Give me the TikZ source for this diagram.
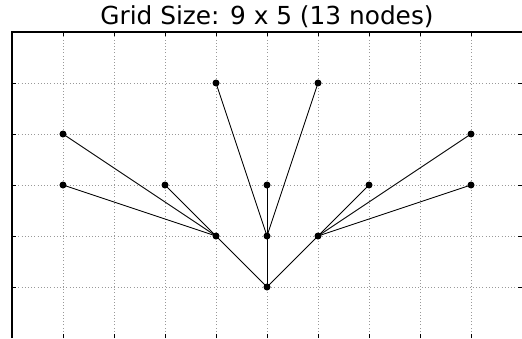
\documentclass[tikz,border=0pt]{standalone}
\usepackage{fontspec}
\setmainfont{DejaVu Sans}
\begin{document}
\begin{tikzpicture}[x=51pt,y=51pt,
  vert/.style={circle,fill=black,inner sep=0pt,minimum size=7pt},
  edge/.style={draw=black,line width=0.9pt},
  gridline/.style={draw=black!40,line width=0.6pt,dash pattern=on 0.8pt off 2.4pt},
  spine/.style={draw=black,line width=1.1pt},
  tick/.style={draw=black,line width=0.8pt}]
\useasboundingbox (-1-12/51,-1) rectangle (9,5+32/51);
% grid
\foreach \i in {0,...,8} \draw[gridline] (\i,-1) -- (\i,5);
\foreach \j in {0,...,4} \draw[gridline] (-1,\j) -- (9,\j);
% spines
\draw[spine] (-1,-1) -- (-1,5) -- (9,5);
% ticks
\foreach \i in {0,...,8} {
  \draw[tick] (\i,5) -- ++(0,-4pt);
  \draw[tick] (\i,-1) -- ++(0,4pt);
}
\foreach \j in {0,...,4} {
  \draw[tick] (-1,\j) -- ++(4pt,0);
  \draw[tick] (9,\j) -- ++(-4pt,0);
}
% title
\node[anchor=base,inner sep=0pt] (title) at (4,5+7/51) {\fontsize{24.8}{28}\selectfont Grid Size: 9 x 5 (13 nodes)};
% nodes
\node[vert] (r) at (4,0) {};
\node[vert] (a) at (3,1) {};
\node[vert] (b) at (4,1) {};
\node[vert] (c) at (5,1) {};
\node[vert] (a1) at (0,3) {};
\node[vert] (a2) at (0,2) {};
\node[vert] (a3) at (2,2) {};
\node[vert] (b1) at (3,4) {};
\node[vert] (b2) at (4,2) {};
\node[vert] (b3) at (5,4) {};
\node[vert] (c1) at (6,2) {};
\node[vert] (c2) at (8,2) {};
\node[vert] (c3) at (8,3) {};
% edges
\draw[edge] (r.center) -- (a.center);
\draw[edge] (r.center) -- (b.center);
\draw[edge] (r.center) -- (c.center);
\draw[edge] (a.center) -- (a1.center);
\draw[edge] (a.center) -- (a2.center);
\draw[edge] (a.center) -- (a3.center);
\draw[edge] (b.center) -- (b1.center);
\draw[edge] (b.center) -- (b2.center);
\draw[edge] (b.center) -- (b3.center);
\draw[edge] (c.center) -- (c1.center);
\draw[edge] (c.center) -- (c2.center);
\draw[edge] (c.center) -- (c3.center);
\end{tikzpicture}
\end{document}
